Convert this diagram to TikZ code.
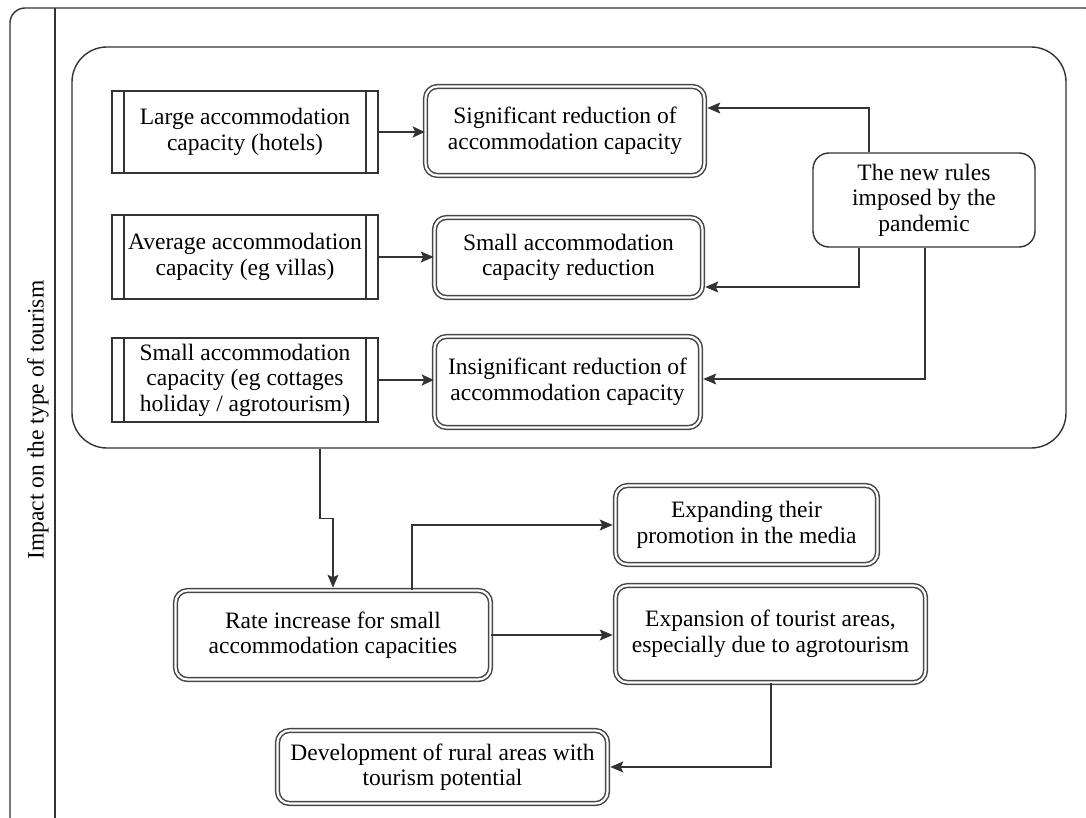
\documentclass[tikz,border=0pt]{standalone}
\usepackage{fontspec}
\setmainfont{Liberation Serif}
\usetikzlibrary{arrows.meta}
\begin{document}
\begin{tikzpicture}[x=1pt,y=-1pt,
  every node/.style={font=\fontsize{23.5}{25.5}\selectfont, align=center, inner sep=0pt, text=black},
  line/.style={draw=black!80, line width=1.4pt},
  proc/.style={line, rectangle,
    path picture={
      \draw[black!80, line width=1.4pt]
        ([xshift=12pt]path picture bounding box.north west) -- ([xshift=12pt]path picture bounding box.south west)
        ([xshift=-12pt]path picture bounding box.north east) -- ([xshift=-12pt]path picture bounding box.south east);
    }},
  dbl/.style={draw=black!72, line width=1.5pt, double=white, double distance=2.2pt, rounded corners=12pt},
  term/.style={line, rounded corners=16pt},
  arr/.style={line, -{Stealth[length=13pt,width=11pt,inset=2.5pt]}},
  bigarr/.style={line, line width=2.6pt, -{Stealth[length=12pt,width=11pt,inset=2.5pt]}},
]
\useasboundingbox (0,0) rectangle (1086,818);
\clip (0,0) rectangle (1086,818);

% outer frame and side band
\draw[line, rounded corners=15pt] (10,840) -- (10,8) -- (1100,8) -- (1100,840);
\draw[line] (55,8) -- (55,830);
\node[rotate=90] (lbl) at (38,420) {Impact on the type of tourism};

% group of accommodation types
\node[line, rounded corners=35pt, minimum width=994pt, minimum height=401pt] (cont) at (569,247.5) {};

\node[proc, minimum width=266pt, minimum height=82pt] (lg) at (245,132) {Large accommodation\\capacity (hotels)};
\node[proc, minimum width=266pt, minimum height=84pt] (av) at (245,257) {Average accommodation\\capacity (eg villas)};
\node[proc, minimum width=266pt, minimum height=84pt] (sm) at (245,380) {Small accommodation\\capacity (eg cottages\\holiday / agrotourism)};

\node[dbl, minimum width=279pt, minimum height=89pt] (sig) at (565,131) {Significant reduction of\\accommodation capacity};
\node[dbl, minimum width=268pt, minimum height=80pt] (sml) at (568.5,257.5) {Small accommodation\\capacity reduction};
\node[dbl, minimum width=266pt, minimum height=91pt] (ins) at (567.5,382) {Insignificant reduction of\\accommodation capacity};

\node[term, minimum width=222pt, minimum height=94pt] (rules) at (924,200) {The new rules\\imposed by the\\pandemic};

% consequences
\node[dbl, minimum width=315pt, minimum height=89pt] (rate) at (333,635) {Rate increase for small\\accommodation capacities};
\node[dbl, minimum width=262pt, minimum height=79pt] (promo) at (746.5,525) {Expanding their\\promotion in the media};
\node[dbl, minimum width=310pt, minimum height=97pt] (expa) at (770.5,634) {Expansion of tourist areas,\\especially due to agrotourism};
\node[dbl, minimum width=330pt, minimum height=73pt] (dev) at (442.5,767) {Development of rural areas with\\tourism potential};

% connectors
\draw[bigarr] (lg.east) -- (lg.east -| sig.west);
\draw[arr] (av.east) -- (av.east -| sml.west);
\draw[bigarr] (sm.east) -- (sm.east -| ins.west);

\draw[arr] ([xshift=-55pt]rules.north) |- ([yshift=23pt,xshift=2pt]sig.east);
\draw[arr] ([xshift=-65pt]rules.south) |- ([yshift=-29.5pt,xshift=2pt]sml.east);
\draw[arr] ([xshift=1pt]rules.south) |- ([yshift=3pt,xshift=2pt]ins.east);

\draw[arr] ([xshift=-249pt]cont.south) -- ++(0,70) -| ([yshift=2pt]rate.north);
\draw[arr] ([xshift=79pt]rate.north) |- ([xshift=-2pt]promo.west);
\draw[arr] (rate.east) -- ([xshift=-2pt]rate.east -| expa.west);
\draw[arr] ([xshift=0.5pt]expa.south) |- ([xshift=2pt]dev.east);
\end{tikzpicture}
\end{document}
